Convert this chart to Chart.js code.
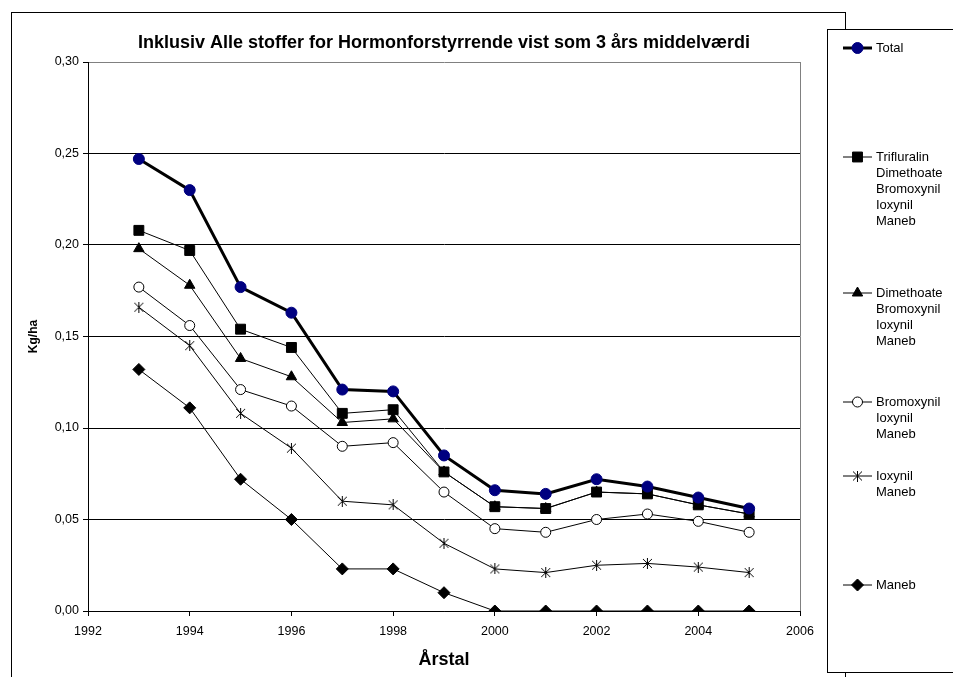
<!DOCTYPE html>
<html>
<head>
<meta charset="utf-8">
<title>Hormonforstyrrende</title>
<script src="https://cdn.jsdelivr.net/npm/chart.js@4.4.0/dist/chart.umd.min.js"></script>
<style>
    html, body { margin: 0; padding: 0; background: #fff; }
    #wrap { width: 953px; height: 677px; }
</style>
</head>
<body>
<div id="wrap"><canvas id="chart" width="953" height="677"></canvas></div>
<script>
// ---- data ----
const years = [1993, 1994, 1995, 1996, 1997, 1998, 1999, 2000, 2001, 2002, 2003, 2004, 2005];

const total       = [0.247, 0.230, 0.177, 0.163, 0.121, 0.120, 0.085, 0.066, 0.064, 0.072, 0.068, 0.062, 0.056];
const trifluralin = [0.208, 0.197, 0.154, 0.144, 0.108, 0.110, 0.076, 0.057, 0.056, 0.065, 0.064, 0.058, 0.053];
const dimethoate  = [0.198, 0.178, 0.138, 0.128, 0.103, 0.105, 0.076, 0.057, 0.056, 0.065, 0.064, 0.058, 0.053];
const bromoxynil  = [0.177, 0.156, 0.121, 0.112, 0.090, 0.092, 0.065, 0.045, 0.043, 0.050, 0.053, 0.049, 0.043];
const ioxynil     = [0.166, 0.145, 0.108, 0.089, 0.060, 0.058, 0.037, 0.023, 0.021, 0.025, 0.026, 0.024, 0.021];
const maneb       = [0.132, 0.111, 0.072, 0.050, 0.023, 0.023, 0.010, 0.000, 0.000, 0.000, 0.000, 0.000, 0.000];

const seriesLabels = [
    ['Total'],
    ['Trifluralin', 'Dimethoate', 'Bromoxynil', 'Ioxynil', 'Maneb'],
    ['Dimethoate', 'Bromoxynil', 'Ioxynil', 'Maneb'],
    ['Bromoxynil', 'Ioxynil', 'Maneb'],
    ['Ioxynil', 'Maneb'],
    ['Maneb']
];

const xTicks = [1992, 1994, 1996, 1998, 2000, 2002, 2004, 2006];
const yTicks = [0, 0.05, 0.10, 0.15, 0.20, 0.25, 0.30];

const chartTitle = 'Inklusiv Alle stoffer for Hormonforstyrrende vist som 3 års middelværdi';
const xTitle = 'Årstal';
const yTitle = 'Kg/ha';

const FONT = '"Liberation Sans", Arial, sans-serif';

// excel style star marker: an X with a vertical bar through it
function makeStar(size) {
    const c = document.createElement('canvas');
    c.width = size;
    c.height = size;
    const g = c.getContext('2d');
    const m = size / 2;
    g.strokeStyle = '#000';
    g.lineWidth = 1;
    g.beginPath();
    g.moveTo(1, 1); g.lineTo(size - 1, size - 1);
    g.moveTo(size - 1, 1); g.lineTo(1, size - 1);
    g.moveTo(m, 0); g.lineTo(m, size);
    g.stroke();
    return c;
}

function toPoints(values) {
    return values.map((v, i) => ({ x: years[i], y: v }));
}

function series(label, values, style) {
    return Object.assign({
        label: label.join(' '),
        lines: label,
        data: toPoints(values),
        borderColor: '#000',
        borderWidth: 1,
        pointBorderColor: '#000',
        pointBackgroundColor: '#000',
        pointBorderWidth: 1,
        pointRadius: 5,
        tension: 0
    }, style);
}

const datasets = [
    series(seriesLabels[0], total, { borderWidth: 3, pointStyle: 'circle', pointRadius: 5.5,
        pointBackgroundColor: '#000080', pointBorderColor: '#000080' }),
    series(seriesLabels[1], trifluralin, { pointStyle: 'rect', pointRadius: 7 }),
    series(seriesLabels[2], dimethoate, { pointStyle: 'triangle', pointRadius: 6 }),
    series(seriesLabels[3], bromoxynil, { pointStyle: 'circle', pointRadius: 5, pointBackgroundColor: '#fff' }),
    series(seriesLabels[4], ioxynil, { pointStyle: makeStar(11), pointRadius: 5.5 }),
    series(seriesLabels[5], maneb, { pointStyle: 'rectRot', pointRadius: 6 })
];

// outer frame, plot border and the hand drawn legend box
const legendRows = [48, 157, 293, 402, 476, 585];

const framePlugin = {
    id: 'frame',
    beforeDraw(chart) {
        const ctx = chart.ctx;
        ctx.save();
        ctx.fillStyle = '#fff';
        ctx.fillRect(0, 0, chart.width, chart.height);
        ctx.strokeStyle = '#000';
        ctx.lineWidth = 1;
        ctx.strokeRect(11.5, 12.5, 834, 700);
        ctx.restore();
    },
    beforeDatasetsDraw(chart) {
        const { ctx, chartArea } = chart;
        ctx.save();
        ctx.strokeStyle = '#808080';
        ctx.lineWidth = 1;
        ctx.beginPath();
        ctx.moveTo(Math.round(chartArea.right) + 0.5, chartArea.top);
        ctx.lineTo(Math.round(chartArea.right) + 0.5, chartArea.bottom);
        ctx.stroke();
        ctx.restore();
    },
    afterDraw(chart) {
        const ctx = chart.ctx;
        ctx.save();
        ctx.fillStyle = '#fff';
        ctx.fillRect(827, 29, 140, 643);
        ctx.strokeStyle = '#000';
        ctx.lineWidth = 1;
        ctx.strokeRect(827.5, 29.5, 140, 643);

        chart.data.datasets.forEach((ds, i) => {
            const y = legendRows[i];
            ctx.strokeStyle = '#000';
            ctx.lineWidth = ds.borderWidth;
            ctx.beginPath();
            ctx.moveTo(843, y);
            ctx.lineTo(872, y);
            ctx.stroke();

            ctx.fillStyle = ds.pointBackgroundColor;
            ctx.strokeStyle = ds.pointBorderColor;
            ctx.lineWidth = 1;
            Chart.helpers.drawPoint(ctx, {
                pointStyle: ds.pointStyle,
                radius: ds.pointRadius,
                borderWidth: 1,
                rotation: 0
            }, 857.5, y);

            ctx.fillStyle = '#000';
            ctx.font = '13px ' + FONT;
            ctx.textBaseline = 'middle';
            ctx.textAlign = 'left';
            ds.lines.forEach((t, k) => ctx.fillText(t, 876, y + k * 16));
        });
        ctx.restore();
    }
};

new Chart(document.getElementById('chart'), {
    type: 'line',
    data: { datasets },
    plugins: [framePlugin],
    options: {
        responsive: false,
        animation: false,
        devicePixelRatio: 1,
        layout: { padding: { left: 12, right: 153, top: 12, bottom: 6 } },
        plugins: {
            legend: { display: false },
            tooltip: { enabled: false },
            title: {
                display: true,
                text: chartTitle,
                fullSize: false,
                color: '#000',
                font: { family: FONT, size: 18, weight: 'bold' },
                padding: { top: 20, bottom: 8.4 }
            }
        },
        scales: {
            x: {
                type: 'linear',
                min: 1992,
                max: 2006,
                afterBuildTicks: s => { s.ticks = xTicks.map(v => ({ value: v })); },
                afterFit: s => { s.height = 60; },
                ticks: {
                    color: '#000',
                    padding: 8,
                    maxRotation: 0,
                    font: { family: FONT, size: 12.5 },
                    callback: v => String(v)
                },
                grid: { drawOnChartArea: false, color: '#000', tickLength: 5 },
                border: { color: '#000', width: 1 },
                title: {
                    display: true,
                    text: xTitle,
                    color: '#000',
                    font: { family: FONT, size: 18, weight: 'bold' },
                    padding: { top: 0, bottom: 0 }
                }
            },
            y: {
                min: 0,
                max: 0.30,
                afterBuildTicks: s => { s.ticks = yTicks.map(v => ({ value: v })); },
                afterFit: s => { s.width = 76; },
                ticks: {
                    color: '#000',
                    padding: 4,
                    font: { family: FONT, size: 12.5 },
                    callback: v => v.toFixed(2).replace('.', ',')
                },
                grid: {
                    color: c => (c.index === yTicks.length - 1 ? '#808080' : '#000'),
                    tickColor: '#000',
                    tickLength: 5
                },
                border: { color: '#000', width: 1 },
                title: {
                    display: true,
                    text: yTitle,
                    color: '#000',
                    font: { family: FONT, size: 12, weight: 'bold' },
                    padding: { top: 14, bottom: 0 }
                }
            }
        }
    }
});
</script>
</body>
</html>
